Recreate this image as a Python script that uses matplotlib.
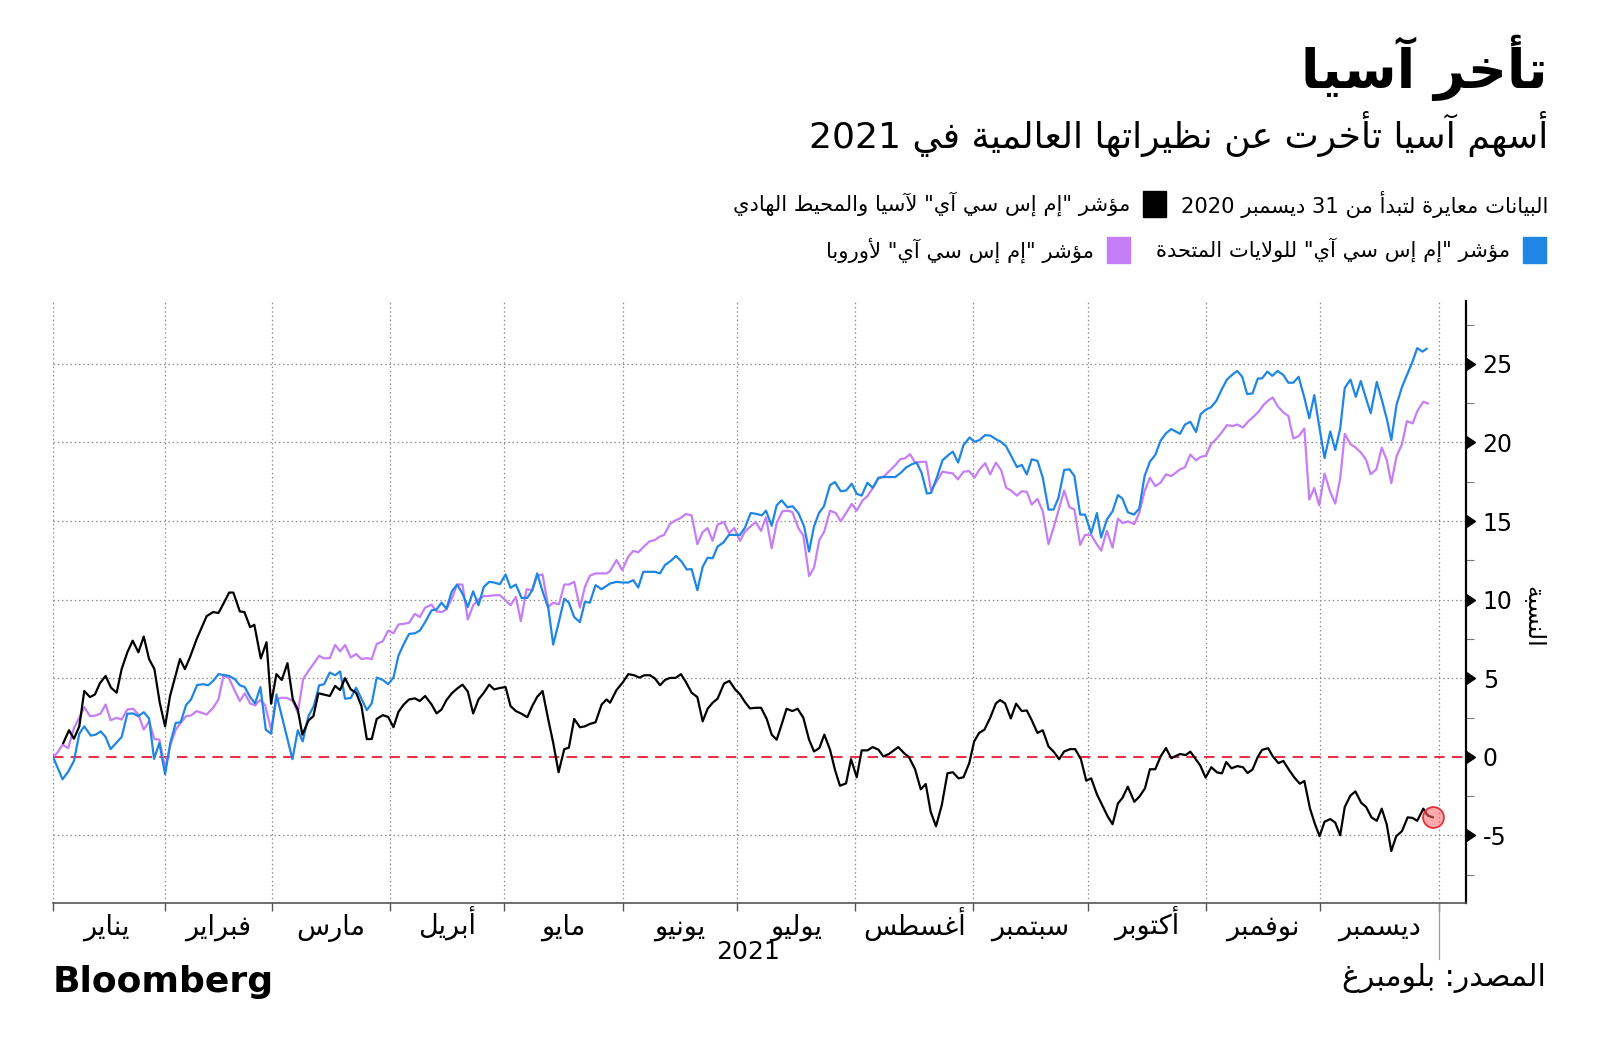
import re
import numpy as np
import pandas as pd
import matplotlib
matplotlib.use("Agg")
import matplotlib.pyplot as plt
from matplotlib.patches import Rectangle

plt.rcParams['font.family'] = ['DejaVu Sans']

# ---- data: (day since 1 Jan 2021, % change since 31 Dec 2020)
asia_pts = [
    (4.3, 0.88), (5.8, 1.69), (7.1, 1.15), (8.5, 1.94), (9.8, 4.19), (11.3, 3.80), (12.6, 3.97),
    (13.9, 4.68), (15.4, 5.15), (16.8, 4.40), (18.3, 4.08), (19.6, 5.58), (21.1, 6.65), (22.5, 7.39),
    (24.0, 6.65), (25.4, 7.65), (26.8, 6.22), (28.2, 5.58), (29.6, 3.44), (31.0, 1.94), (32.3, 3.87),
    (33.6, 5.04), (34.9, 6.22), (36.2, 5.58), (37.5, 6.32), (39.3, 7.50), (41.9, 8.95), (43.6, 9.21),
    (45.0, 9.15), (46.3, 9.74), (47.8, 10.45), (48.9, 10.45), (50.6, 9.25), (51.8, 9.21), (53.3, 8.25),
    (54.4, 8.40), (56.1, 6.26), (57.6, 7.29), (58.8, 3.38), (60.2, 5.26), (61.6, 4.89), (63.1, 5.96),
    (64.5, 3.65), (65.8, 3.01), (67.0, 1.41), (68.6, 2.31), (69.9, 2.59), (71.2, 4.04), (72.5, 3.97),
    (74.2, 3.87), (75.6, 4.51), (76.9, 4.25), (78.2, 5.00), (79.7, 4.29), (81.1, 4.08), (82.5, 3.23),
    (83.9, 1.13), (85.2, 1.13), (86.5, 2.41), (88.1, 2.65), (89.5, 2.54), (90.9, 1.88), (92.2, 2.86),
    (93.6, 3.33), (95.0, 3.65), (96.5, 3.72), (97.8, 3.55), (99.2, 3.87), (100.9, 3.33), (102.2, 2.76),
    (103.5, 3.01), (104.8, 3.61), (106.2, 4.04), (107.6, 4.34), (109.0, 4.59), (110.4, 4.15),
    (111.8, 2.76), (113.2, 3.65), (114.6, 4.08), (116.0, 4.59), (117.3, 4.29), (118.8, 4.38),
    (120.3, 4.44), (121.6, 3.23), (123.0, 2.91), (124.5, 2.74), (126.0, 2.52), (127.3, 3.23),
    (128.6, 3.82), (130.0, 4.19), (131.5, 2.37), (132.8, 0.88), (134.2, -0.98), (135.7, 0.49),
    (136.9, 0.58), (138.3, 2.41), (139.8, 1.88), (141.1, 1.94), (142.4, 2.09), (143.9, 2.20),
    (145.5, 3.33), (146.8, 3.65), (147.7, 3.44), (149.4, 4.25), (151.0, 4.72), (152.5, 5.26),
    (154.0, 5.19), (155.4, 5.04), (156.7, 5.19), (158.2, 5.19), (159.5, 4.98), (160.8, 4.55),
    (162.1, 4.89), (163.4, 5.02), (164.9, 5.02), (166.3, 5.26), (167.6, 4.76), (169.1, 4.08),
    (170.6, 3.80), (172.0, 2.26), (173.3, 3.06), (174.6, 3.44), (175.9, 3.70), (177.6, 4.66),
    (179.0, 4.83), (180.5, 4.29), (181.8, 3.97), (183.1, 3.48), (184.4, 3.08), (185.9, 3.12),
    (187.3, 3.12), (188.8, 2.41), (190.1, 1.41), (191.4, 1.09), (192.7, 2.05), (194.0, 3.06),
    (195.5, 2.91), (196.9, 3.06), (198.4, 2.48), (199.9, 1.09), (201.2, 0.34), (202.6, 0.56),
    (203.9, 1.41), (205.4, 0.45), (206.7, -0.83), (208.0, -1.84), (209.6, -1.69), (210.9, -0.15),
    (212.4, -1.30), (213.7, 0.41), (215.2, 0.41), (216.6, 0.62), (218.1, 0.45), (219.4, 0.02),
    (220.9, 0.19), (223.3, 0.62), (224.8, 0.24), (226.1, -0.02), (227.7, -0.79), (229.2, -2.07),
    (230.5, -1.73), (231.8, -3.50), (233.2, -4.42), (234.7, -3.08), (236.2, -1.05), (237.6, -0.98),
    (239.1, -1.37), (240.4, -1.30), (241.9, -0.41), (243.2, 0.98), (244.5, 1.52), (245.9, 1.73),
    (247.4, 2.48), (248.9, 3.40), (250.0, 3.61), (251.3, 3.40), (252.8, 2.44), (254.2, 3.38),
    (255.7, 2.91), (257.0, 2.95), (258.3, 2.33), (259.8, 1.52), (261.2, 1.69), (262.7, 0.66),
    (264.0, 0.34), (265.5, -0.15), (266.8, 0.34), (268.4, 0.49), (269.7, 0.49), (271.2, -0.15),
    (272.6, -1.52), (273.9, -1.37), (275.4, -2.39), (276.8, -3.08), (278.2, -3.78), (279.5, -4.29),
    (280.9, -2.97), (282.1, -2.61), (283.5, -1.90), (285.2, -2.86), (286.5, -2.54), (288.0, -2.01),
    (289.3, -0.79), (290.7, -0.79), (292.1, 0.02), (293.5, 0.56), (294.9, -0.09), (297.2, 0.18),
    (298.7, 0.11), (299.9, 0.33), (301.2, -0.11), (302.5, -0.55), (303.9, -1.32), (305.4, -0.66),
    (306.9, -0.99), (308.2, -1.05), (309.3, -0.33), (310.7, -0.73), (312.2, -0.59), (313.7, -0.66),
    (314.9, -1.03), (316.2, -0.81), (317.6, 0.00), (318.7, 0.44), (320.3, 0.55), (321.5, 0.04),
    (323.0, -0.40), (324.3, -0.26), (325.8, -0.84), (327.2, -1.32), (328.6, -1.71), (329.8, -1.54),
    (331.3, -3.30), (332.6, -4.29), (333.8, -5.05), (335.1, -4.13), (336.6, -3.96), (337.9, -4.18),
    (339.2, -4.99), (340.4, -3.19), (341.9, -2.46), (343.2, -2.20), (344.7, -2.92), (346.0, -3.19),
    (347.4, -3.85), (348.8, -4.07), (350.1, -3.30), (351.4, -4.29), (352.6, -6.00), (353.9, -5.05),
    (355.4, -4.73), (356.9, -3.85), (358.2, -3.89), (359.4, -4.07), (361.0, -3.30), (362.2, -3.74),
    (363.5, -3.85),
]

usa_pts = [
    (1.6, 0.00), (4.1, -1.43), (5.6, -0.94), (7.1, -0.26), (8.5, 1.47), (9.8, 1.94), (11.5, 1.35),
    (12.8, 1.41), (14.1, 1.62), (15.4, 1.26), (16.7, 0.49), (18.3, 0.92), (19.6, 1.26), (21.1, 2.74),
    (22.6, 2.76), (24.0, 2.59), (25.4, 2.84), (26.8, 2.44), (28.1, -0.13), (29.5, 0.88), (31.0, -1.11),
    (32.4, 0.92), (33.8, 2.16), (35.1, 2.20), (36.5, 3.29), (37.8, 3.65), (39.4, 4.57), (41.0, 4.62),
    (42.3, 4.55), (43.6, 4.83), (45.0, 5.26), (46.3, 5.21), (47.8, 5.15), (49.3, 4.94), (50.6, 4.55),
    (51.9, 4.44), (53.3, 3.80), (54.6, 3.40), (56.0, 4.44), (57.4, 1.73), (58.8, 1.47), (60.2, 3.97),
    (64.4, -0.15), (65.8, 1.69), (67.1, 0.98), (68.6, 2.59), (70.0, 3.23), (71.4, 4.55), (72.7, 4.62),
    (74.2, 5.36), (75.6, 5.19), (76.9, 5.43), (78.2, 3.70), (79.7, 3.74), (81.1, 4.40), (82.5, 3.70),
    (83.9, 2.97), (85.2, 3.40), (86.5, 5.04), (88.1, 4.89), (89.5, 4.62), (90.9, 5.04), (92.2, 6.43),
    (93.6, 7.18), (95.0, 7.82), (96.5, 7.86), (97.8, 8.03), (99.2, 8.57), (100.9, 9.32), (102.2, 9.38),
    (103.5, 9.81), (104.8, 9.42), (106.2, 10.53), (107.6, 10.96), (109.0, 10.38), (110.4, 9.53),
    (111.8, 10.53), (113.2, 9.64), (114.6, 10.81), (116.0, 11.13), (117.3, 11.09), (118.8, 10.98),
    (120.3, 11.60), (121.6, 10.75), (123.0, 10.96), (124.5, 10.11), (126.0, 10.11), (127.3, 10.60),
    (128.6, 11.67), (130.0, 10.53), (131.5, 9.47), (132.8, 7.14), (134.3, 8.61), (135.7, 10.06),
    (136.9, 9.81), (138.3, 8.89), (139.8, 8.57), (141.1, 9.85), (142.4, 9.81), (143.9, 10.92),
    (145.5, 10.66), (146.8, 10.88), (147.7, 11.03), (149.4, 11.13), (151.0, 11.09), (152.5, 11.09),
    (153.8, 11.24), (155.1, 10.77), (156.4, 11.77), (157.9, 11.77), (159.5, 11.77), (160.8, 11.67),
    (162.1, 12.20), (163.7, 12.48), (165.0, 12.78), (166.5, 12.41), (167.8, 11.92), (169.1, 11.94),
    (170.6, 10.60), (172.0, 12.09), (173.3, 12.67), (174.6, 12.63), (175.9, 13.38), (177.4, 13.63),
    (178.9, 14.12), (180.3, 14.12), (181.8, 14.12), (183.1, 14.59), (184.6, 15.51), (186.2, 15.45),
    (187.5, 15.36), (188.6, 15.66), (190.1, 14.70), (191.4, 16.00), (192.7, 16.32), (194.2, 15.88),
    (195.6, 15.94), (197.1, 15.51), (198.6, 14.66), (199.9, 13.06), (201.2, 14.66), (202.5, 15.51),
    (203.8, 15.94), (205.4, 17.29), (206.7, 17.48), (208.2, 16.90), (209.6, 16.94), (211.1, 17.37),
    (212.4, 16.73), (213.7, 16.62), (215.2, 17.44), (216.6, 17.12), (218.1, 17.76), (219.6, 17.80),
    (222.5, 17.80), (224.0, 18.08), (225.3, 18.40), (226.8, 18.61), (228.1, 18.72), (229.4, 18.08),
    (230.8, 16.75), (231.9, 16.79), (233.4, 17.76), (234.9, 18.87), (236.2, 19.15), (237.6, 19.42),
    (239.0, 18.72), (240.4, 19.83), (242.0, 20.32), (243.3, 20.04), (244.6, 20.15), (246.1, 20.47),
    (247.5, 20.43), (248.9, 20.21), (250.2, 20.04), (251.5, 19.79), (252.9, 19.15), (254.4, 18.44),
    (255.7, 18.57), (257.0, 17.97), (258.3, 18.93), (259.8, 18.83), (261.2, 17.76), (262.7, 15.73),
    (264.0, 15.73), (265.3, 16.47), (266.8, 18.25), (268.2, 18.29), (269.5, 17.86), (271.0, 15.41),
    (272.3, 15.41), (273.9, 14.23), (275.4, 15.51), (276.5, 13.95), (278.0, 15.09), (279.5, 15.62),
    (280.9, 16.65), (282.1, 16.43), (283.5, 15.56), (285.1, 15.41), (286.5, 15.79), (287.9, 17.86),
    (289.3, 18.78), (290.7, 19.21), (292.1, 20.11), (293.5, 20.58), (294.9, 20.85), (297.2, 20.55),
    (298.5, 21.14), (299.9, 21.32), (301.4, 20.66), (302.6, 21.80), (304.0, 22.09), (305.3, 22.24),
    (306.7, 22.64), (308.2, 23.41), (309.5, 24.00), (311.0, 24.33), (312.2, 24.55), (313.5, 24.18),
    (314.8, 23.08), (316.2, 23.12), (317.6, 24.07), (318.7, 24.07), (320.1, 24.51), (321.4, 24.24),
    (322.8, 24.55), (324.3, 24.29), (325.6, 23.80), (326.9, 23.80), (328.3, 24.18), (329.8, 22.86),
    (331.1, 21.54), (332.4, 23.01), (333.8, 20.88), (335.1, 19.01), (336.6, 20.70), (337.9, 19.52),
    (339.2, 20.88), (340.4, 23.47), (341.9, 24.00), (343.3, 22.90), (344.6, 23.91), (345.9, 22.86),
    (347.2, 21.87), (348.8, 23.85), (350.2, 22.64), (351.5, 21.43), (352.6, 20.15), (354.0, 22.42),
    (355.4, 23.52), (356.7, 24.29), (358.2, 25.16), (359.4, 26.00), (360.8, 25.78), (361.9, 25.96),
]

europe_pts = [
    (1.6, 0.00), (2.7, 0.24), (4.1, 0.77), (5.6, 0.56), (7.1, 1.84), (8.5, 2.48), (9.8, 3.16),
    (11.3, 2.59), (12.8, 2.63), (14.1, 2.76), (15.4, 3.33), (16.7, 2.33), (18.3, 2.48), (19.6, 2.37),
    (21.1, 3.01), (22.6, 3.06), (24.0, 2.69), (25.4, 1.73), (26.8, 2.26), (28.2, 1.13), (29.5, 1.09),
    (31.0, -0.73), (32.4, 0.77), (33.8, 1.73), (35.1, 2.16), (36.5, 2.59), (37.8, 2.63), (39.3, 2.91),
    (40.6, 2.80), (41.9, 2.69), (43.6, 3.12), (45.0, 3.65), (46.3, 5.15), (47.7, 5.04), (49.1, 4.29),
    (50.6, 3.55), (51.9, 4.04), (53.3, 3.40), (54.6, 3.27), (55.9, 3.61), (57.2, 3.31), (58.8, 1.73),
    (60.2, 3.65), (61.6, 3.76), (63.0, 3.74), (64.5, 3.55), (65.8, 2.80), (67.2, 4.94), (68.6, 5.47),
    (69.9, 5.90), (71.4, 6.43), (72.7, 6.26), (74.2, 6.28), (75.6, 7.12), (76.9, 6.71), (78.2, 7.12),
    (79.7, 6.32), (81.1, 6.54), (82.5, 6.22), (83.9, 6.28), (85.2, 6.22), (86.5, 7.18), (88.1, 7.35),
    (89.5, 8.03), (90.9, 7.86), (92.2, 8.42), (93.6, 8.46), (95.0, 8.53), (96.5, 9.10), (97.8, 8.89),
    (99.2, 9.49), (100.9, 9.68), (102.2, 9.25), (103.5, 9.21), (104.8, 9.38), (106.2, 10.06),
    (107.6, 10.96), (109.0, 10.96), (110.4, 8.74), (111.8, 9.64), (113.2, 10.02), (114.6, 10.23),
    (116.0, 10.23), (117.3, 10.28), (118.8, 10.28), (120.3, 9.96), (121.6, 9.64), (123.0, 10.17),
    (124.3, 8.63), (125.8, 10.66), (127.3, 10.60), (128.6, 11.52), (130.0, 11.60), (131.5, 9.53),
    (132.8, 9.81), (134.3, 9.70), (135.7, 10.96), (136.9, 10.96), (138.3, 11.13), (139.8, 9.49),
    (141.1, 10.81), (142.4, 11.52), (143.9, 11.67), (145.5, 11.67), (146.8, 11.67), (147.7, 11.82),
    (149.4, 12.52), (150.9, 11.88), (152.5, 12.74), (153.8, 13.10), (155.1, 13.01), (156.6, 13.38),
    (158.0, 13.70), (159.5, 13.80), (160.8, 14.02), (161.9, 14.12), (163.4, 14.81), (164.7, 15.02),
    (166.2, 15.19), (167.6, 15.45), (169.1, 15.36), (170.6, 13.53), (172.0, 14.29), (173.3, 14.55),
    (174.6, 13.74), (175.9, 14.77), (177.6, 14.94), (178.9, 14.23), (180.3, 14.55), (181.8, 13.74),
    (183.1, 14.34), (184.6, 14.66), (185.9, 14.94), (187.3, 14.38), (188.6, 15.24), (190.1, 13.27),
    (191.4, 14.87), (192.9, 15.62), (194.2, 15.66), (195.5, 15.58), (197.1, 14.55), (198.4, 14.08),
    (199.9, 11.50), (201.2, 12.03), (202.6, 13.80), (203.9, 14.34), (205.4, 15.66), (206.9, 15.51),
    (208.2, 14.98), (209.6, 15.51), (211.1, 16.09), (212.4, 15.66), (213.9, 16.30), (215.2, 16.58),
    (216.8, 17.16), (218.1, 17.71), (219.6, 17.86), (222.5, 18.55), (223.8, 18.93), (225.1, 19.00),
    (226.4, 19.25), (227.7, 18.72), (229.2, 18.76), (230.6, 18.78), (231.9, 16.94), (233.4, 17.54),
    (234.9, 18.14), (236.2, 18.08), (237.6, 18.03), (238.9, 17.65), (240.4, 18.14), (241.9, 18.18),
    (243.3, 17.76), (244.6, 18.29), (246.1, 18.68), (247.4, 17.97), (248.9, 18.72), (250.3, 18.23),
    (251.6, 17.12), (252.9, 16.94), (254.4, 16.62), (255.7, 16.90), (257.0, 16.86), (258.3, 16.05),
    (259.8, 16.41), (261.2, 15.62), (262.7, 13.53), (264.0, 14.55), (265.5, 15.83), (266.8, 16.94),
    (268.2, 15.88), (269.5, 15.73), (271.0, 13.48), (272.3, 14.12), (273.9, 14.12), (275.2, 13.59),
    (276.5, 13.12), (278.0, 14.38), (279.5, 13.31), (280.9, 15.15), (282.2, 14.87), (283.5, 14.98),
    (285.2, 14.81), (286.5, 15.51), (287.9, 16.90), (289.3, 17.76), (290.7, 17.22), (292.1, 17.44),
    (293.5, 17.97), (294.9, 17.86), (297.2, 18.29), (298.5, 18.42), (299.9, 19.23), (301.4, 18.86),
    (302.6, 19.08), (304.0, 19.16), (305.3, 19.89), (306.7, 20.22), (308.2, 20.66), (309.5, 21.10),
    (311.0, 21.05), (312.2, 21.14), (313.7, 20.95), (315.0, 21.32), (316.5, 21.65), (317.9, 21.98),
    (319.2, 22.42), (320.4, 22.68), (321.5, 22.86), (322.8, 22.31), (324.3, 21.91), (325.6, 21.69),
    (326.9, 20.26), (328.3, 20.40), (329.8, 20.88), (331.1, 16.37), (332.4, 17.10), (333.7, 16.00),
    (335.1, 18.02), (336.5, 16.92), (337.9, 16.11), (339.2, 17.69), (340.4, 20.55), (341.9, 19.89),
    (343.3, 19.67), (344.7, 19.34), (346.0, 18.90), (347.2, 17.98), (348.7, 18.29), (350.1, 19.67),
    (351.4, 18.90), (352.6, 17.41), (354.0, 19.12), (355.4, 19.89), (356.7, 21.36), (358.2, 21.21),
    (359.4, 21.98), (361.0, 22.59), (362.2, 22.48),
]

months_ar = ['يناير', 'فبراير', 'مارس', 'أبريل', 'مايو', 'يونيو',
             'يوليو', 'أغسطس', 'سبتمبر', 'أكتوبر', 'نوفمبر', 'ديسمبر']
y_major = [-5, 0, 5, 10, 15, 20, 25]
y_minor = [-7.5, -2.5, 2.5, 7.5, 12.5, 17.5, 22.5, 27.5]

title = 'تأخر آسيا'
subtitle = 'أسهم آسيا تأخرت عن نظيراتها العالمية في 2021'
note = 'البيانات معايرة لتبدأ من 31 ديسمبر 2020'
lbl_asia = 'مؤشر "إم إس سي آي" لآسيا والمحيط الهادي'
lbl_usa = 'مؤشر "إم إس سي آي" للولايات المتحدة'
lbl_eu = 'مؤشر "إم إس سي آي" لأوروبا'
ylabel = 'النسبة'
source = 'المصدر: بلومبرغ'

C_ASIA, C_USA, C_EU = '#000000', '#1f86e3', '#c57ef5'
C_ZERO = '#e8334a'

# ---- tiny arabic shaper (matplotlib has no shaping / bidi)
AR_BASE = {
    'ء': (0xFE80, 1), 'آ': (0xFE81, 2), 'أ': (0xFE83, 2), 'ؤ': (0xFE85, 2), 'إ': (0xFE87, 2),
    'ئ': (0xFE89, 4), 'ا': (0xFE8D, 2), 'ب': (0xFE8F, 4), 'ة': (0xFE93, 2), 'ت': (0xFE95, 4),
    'ث': (0xFE99, 4), 'ج': (0xFE9D, 4), 'ح': (0xFEA1, 4), 'خ': (0xFEA5, 4), 'د': (0xFEA9, 2),
    'ذ': (0xFEAB, 2), 'ر': (0xFEAD, 2), 'ز': (0xFEAF, 2), 'س': (0xFEB1, 4), 'ش': (0xFEB5, 4),
    'ص': (0xFEB9, 4), 'ض': (0xFEBD, 4), 'ط': (0xFEC1, 4), 'ظ': (0xFEC5, 4), 'ع': (0xFEC9, 4),
    'غ': (0xFECD, 4), 'ف': (0xFED1, 4), 'ق': (0xFED5, 4), 'ك': (0xFED9, 4), 'ل': (0xFEDD, 4),
    'م': (0xFEE1, 4), 'ن': (0xFEE5, 4), 'ه': (0xFEE9, 4), 'و': (0xFEED, 2), 'ى': (0xFEEF, 2),
    'ي': (0xFEF1, 4),
}
LAM_ALEF = {'آ': 0xFEF5, 'أ': 0xFEF7, 'إ': 0xFEF9, 'ا': 0xFEFB}


def ar(s):
    units = []
    i = 0
    while i < len(s):
        if s[i] == 'ل' and i + 1 < len(s) and s[i + 1] in LAM_ALEF:
            units.append(('LA', s[i + 1]))
            i += 2
        else:
            units.append(('C', s[i]))
            i += 1
    out = []
    for k, (kind, c) in enumerate(units):
        prev = units[k - 1] if k > 0 else None
        nxt = units[k + 1] if k + 1 < len(units) else None
        prev_joins = (prev is not None and prev[0] == 'C'
                      and AR_BASE.get(prev[1], (0, 0))[1] == 4)
        if kind == 'LA':
            out.append(chr(LAM_ALEF[c] + (1 if prev_joins else 0)))
            continue
        if c not in AR_BASE:
            out.append(c)
            continue
        code, nf = AR_BASE[c]
        if nf == 1:
            out.append(chr(code))
            continue
        next_joins = nf == 4 and nxt is not None and (
            nxt[0] == 'LA' or (nxt[1] in AR_BASE and nxt[1] != 'ء'))
        if prev_joins and next_joins:
            off = 3
        elif prev_joins:
            off = 1
        elif next_joins:
            off = 2
        else:
            off = 0
        out.append(chr(code + off))
    vis = ''.join(out)[::-1]
    # numbers stay left to right
    return re.sub(r'[0-9A-Za-z]+', lambda m: m.group(0)[::-1], vis)


# ---- figure
fig = plt.figure(figsize=(16, 10.6), dpi=100)
ax = fig.add_axes([53 / 1600, 1 - 903 / 1060, 1413 / 1600, 602 / 1060])

for pts, col in [(europe_pts, C_EU), (usa_pts, C_USA), (asia_pts, C_ASIA)]:
    d, v = zip(*pts)
    ax.plot(d, v, color=col, lw=1.6, zorder=3)

ax.axhline(0, color=C_ZERO, lw=1.5, ls=(0, (5, 3.5)), zorder=2)
ax.plot(asia_pts[-1][0], asia_pts[-1][1], 'o', ms=15, mfc=(1, 0.4, 0.4, 0.55),
        mec='#e8303a', mew=1.3, zorder=4)

x_left, x_right = 1.6, 372.2
ax.set_xlim(x_left, x_right)
ax.set_ylim(-9.3, 29.0)

# month boundaries as days since 1 Jan 2021
starts = pd.date_range('2021-01-01', '2022-01-01', freq='MS')
month_days = np.array((starts - pd.Timestamp('2021-01-01')).days, dtype=float)
ax.set_xticks([x_left] + list(month_days[1:]))
ax.set_xticklabels([])
mids = (month_days[:-1] + month_days[1:]) / 2
ax.set_xticks(mids, minor=True)
ax.set_xticklabels([ar(m) for m in months_ar], minor=True, fontsize=19.5)
for lbl in ax.get_xticklabels(minor=True):
    lbl.set_va('baseline')
ax.tick_params(axis='x', which='major', length=6, width=1, color='#555555')
ax.tick_params(axis='x', which='minor', length=0, pad=23)
ax.axvline(month_days[-1], ymin=-0.093, ymax=0, color='#999999', lw=0.9, clip_on=False)
ax.text(0.492, -0.082, '2021', transform=ax.transAxes, ha='center', va='center', fontsize=18)

ax.yaxis.tick_right()
ax.set_yticks(y_major)
ax.set_yticks(y_minor, minor=True)
ax.set_yticklabels([str(t) for t in y_major], fontsize=17)
ax.tick_params(axis='y', which='major', length=0, pad=12)
ax.tick_params(axis='y', which='minor', length=6, width=0.8, color='#777777')
ax.plot([1.0] * len(y_major), y_major, ls='none', marker=9, ms=9, color='black',
        transform=ax.get_yaxis_transform(), clip_on=False, zorder=5)
ax.text(1.048, 0.475, ar(ylabel), transform=ax.transAxes, rotation=270,
        ha='center', va='center', fontsize=17)

ax.grid(True, which='major', ls=(0, (1.2, 2.2)), color='#8c8c8c', lw=0.9)
# the zero line is drawn red-dashed instead of grey-dotted
ax.yaxis.get_major_ticks()[y_major.index(0)].gridline.set_visible(False)
ax.spines['top'].set_visible(False)
ax.spines['left'].set_visible(False)
ax.spines['right'].set_color('black')
ax.spines['right'].set_linewidth(1.6)
ax.spines['bottom'].set_color('#555555')
ax.spines['bottom'].set_linewidth(1.2)

# ---- titles and legend
fig.text(1548 / 1600, 1 - 68 / 1060, ar(title), ha='right', va='center',
         fontsize=39, weight='bold')
fig.text(1548 / 1600, 1 - 134 / 1060, ar(subtitle), ha='right', va='center', fontsize=26)


def legend_item(x_sq, y, col, label):
    fig.add_artist(Rectangle((x_sq / 1600, 1 - (y + 13) / 1060), 23 / 1600, 26 / 1060,
                             transform=fig.transFigure, color=col))
    fig.text((x_sq - 13) / 1600, 1 - y / 1060, ar(label), ha='right', va='center', fontsize=15.2)


fig.text(1548 / 1600, 1 - 204 / 1060, ar(note), ha='right', va='center', fontsize=15.2)
legend_item(1143, 204, C_ASIA, lbl_asia)
legend_item(1523, 250, C_USA, lbl_usa)
legend_item(1107, 250, C_EU, lbl_eu)

fig.text(53 / 1600, 1 - 982 / 1060, 'Bloomberg', ha='left', va='center',
         fontsize=26, weight='bold')
fig.text(1546 / 1600, 1 - 978 / 1060, ar(source), ha='right', va='center', fontsize=21.5)

fig.savefig('out.png', dpi=100)
